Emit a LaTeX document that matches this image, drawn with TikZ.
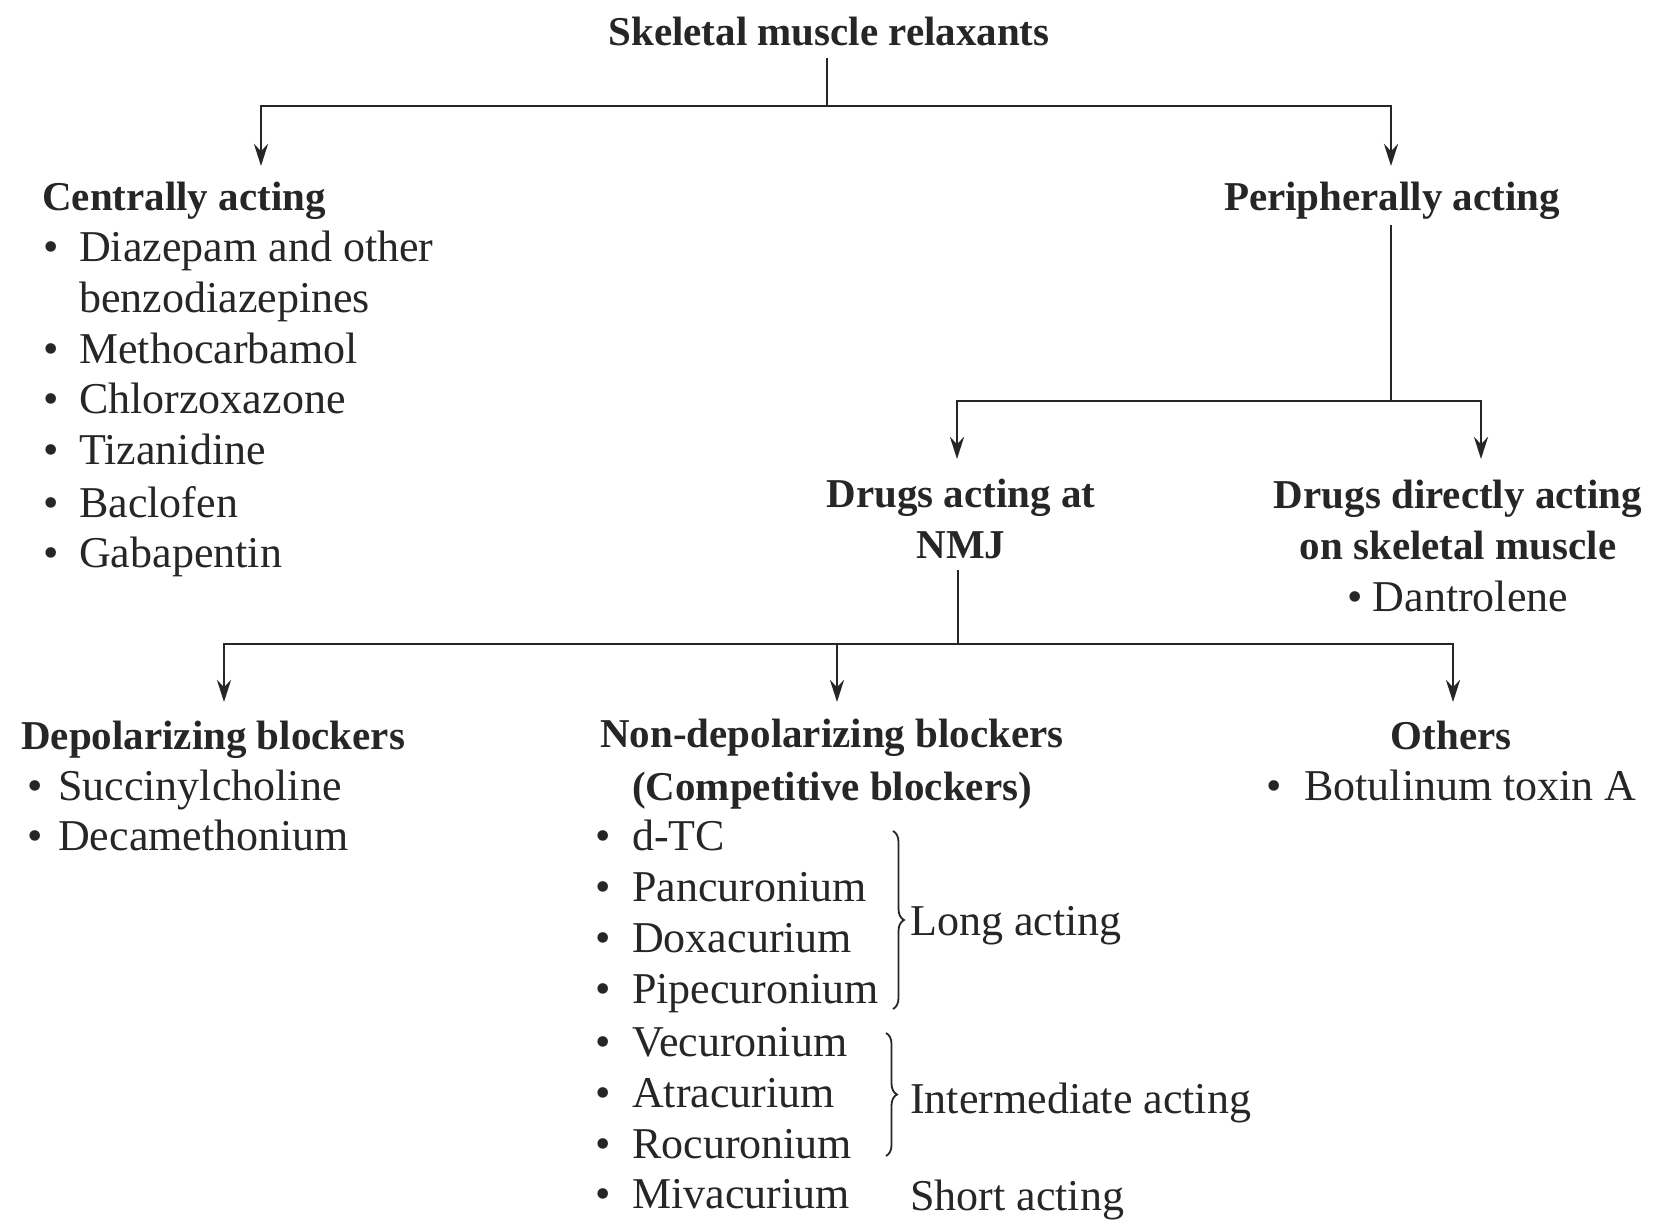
\documentclass[tikz,border=0pt]{standalone}
\usepackage{fontspec}
\setmainfont{Liberation Serif}
\usetikzlibrary{arrows.meta,decorations.pathreplacing}
\newcommand\itm[1][36pt]{\makebox[#1][l]{\textbullet}}
\definecolor{ink}{HTML}{262626}
\begin{document}
\begin{tikzpicture}[x=1pt,y=-1pt,
  txt/.style={font=\fontsize{44}{51}\selectfont, inner sep=0pt, text=ink, text height=28pt, text depth=9pt, yshift=-4pt},
  hd/.style={txt, font=\fontsize{41}{51}\selectfont\bfseries},
  ln/.style={line width=2.8pt, draw=ink},
  arr/.style={ln,-{Stealth[length=22pt,width=14pt]}},
  brc/.style={draw=ink, line width=1.8pt, decorate, decoration={brace,amplitude=11pt}}]
\useasboundingbox[fill=white] (0,0) rectangle (1656,1222);

% title
\node[hd] (title) at (829,32) {Skeletal muscle relaxants};
\coordinate (j0) at (827,106);
\coordinate (cL) at (261,166);
\coordinate (cR) at (1391,166);
\draw[ln] (827,58) -- (j0);
\draw[arr] (j0) -| (cL);
\draw[arr] (j0) -| (cR);

% centrally acting
\node[hd,anchor=west] (cen) at (42,197) {Centrally acting};
\node[txt,anchor=west] (c1) at (43,248) {\itm Diazepam and other};
\node[txt,anchor=west] (c1b) at (79,299) {benzodiazepines};
\node[txt,anchor=west] (c2) at (43,350) {\itm Methocarbamol};
\node[txt,anchor=west] (c3) at (43,400) {\itm Chlorzoxazone};
\node[txt,anchor=west] (c4) at (43,451) {\itm Tizanidine};
\node[txt,anchor=west] (c5) at (43,504) {\itm Baclofen};
\node[txt,anchor=west] (c6) at (43,554) {\itm Gabapentin};

% peripherally acting
\node[hd] (per) at (1392,197) {Peripherally acting};
\coordinate (j1) at (1391,401);
\coordinate (nL) at (957,459);
\coordinate (nR) at (1481,459);
\draw[ln] (1391,225) -- (j1);
\draw[arr] (j1) -| (nL);
\draw[arr] (j1) -| (nR);

\node[hd] (nmja) at (961,494) {Drugs acting at};
\node[hd] (nmjb) at (961,545) {NMJ};
\node[hd] (dira) at (1458,495) {Drugs directly acting};
\node[hd] (dirb) at (1458,546) {on skeletal muscle};
\node[txt] (dan) at (1458,598) {\itm[25pt]Dantrolene};

% NMJ branches
\coordinate (j2) at (958,644);
\coordinate (bL) at (224,702);
\coordinate (bM) at (837,702);
\coordinate (bR) at (1453,702);
\draw[ln] (958,570) -- (j2);
\draw[arr] (j2) -| (bL);
\draw[arr] (j2) -| (bM);
\draw[arr] (j2) -| (bR);

% depolarizing
\node[hd,anchor=west] (dep) at (21,736) {Depolarizing blockers};
\node[txt,anchor=west] (d1) at (27,787) {\itm[31pt]Succinylcholine};
\node[txt,anchor=west] (d2) at (27,837) {\itm[31pt]Decamethonium};

% non-depolarizing
\node[hd,anchor=west] (nd) at (600,734) {Non-depolarizing blockers};
\node[hd,anchor=west] (nd2) at (632,787) {(Competitive blockers)};
\node[txt,anchor=west] (n1) at (595,837) {\itm[37pt]d-TC};
\node[txt,anchor=west] (n2) at (595,888) {\itm[37pt]Pancuronium};
\node[txt,anchor=west] (n3) at (595,939) {\itm[37pt]Doxacurium};
\node[txt,anchor=west] (n4) at (595,990) {\itm[37pt]Pipecuronium};
\node[txt,anchor=west] (n5) at (595,1043) {\itm[37pt]Vecuronium};
\node[txt,anchor=west] (n6) at (595,1094) {\itm[37pt]Atracurium};
\node[txt,anchor=west] (n7) at (595,1145) {\itm[37pt]Rocuronium};
\node[txt,anchor=west] (n8) at (595,1195) {\itm[37pt]Mivacurium};

\draw[brc] (893,831) -- (893,1009);
\draw[brc] (886,1033) -- (886,1156);
\node[txt,anchor=west] (long) at (910,922) {Long acting};
\node[txt,anchor=west] (inter) at (910,1100) {Intermediate acting};
\node[txt,anchor=west] (short) at (910,1197) {Short acting};

% others
\node[hd] (oth) at (1451,736) {Others};
\node[txt,anchor=west] (bot) at (1266,787) {\itm[38pt]Botulinum toxin A};
\end{tikzpicture}
\end{document}
